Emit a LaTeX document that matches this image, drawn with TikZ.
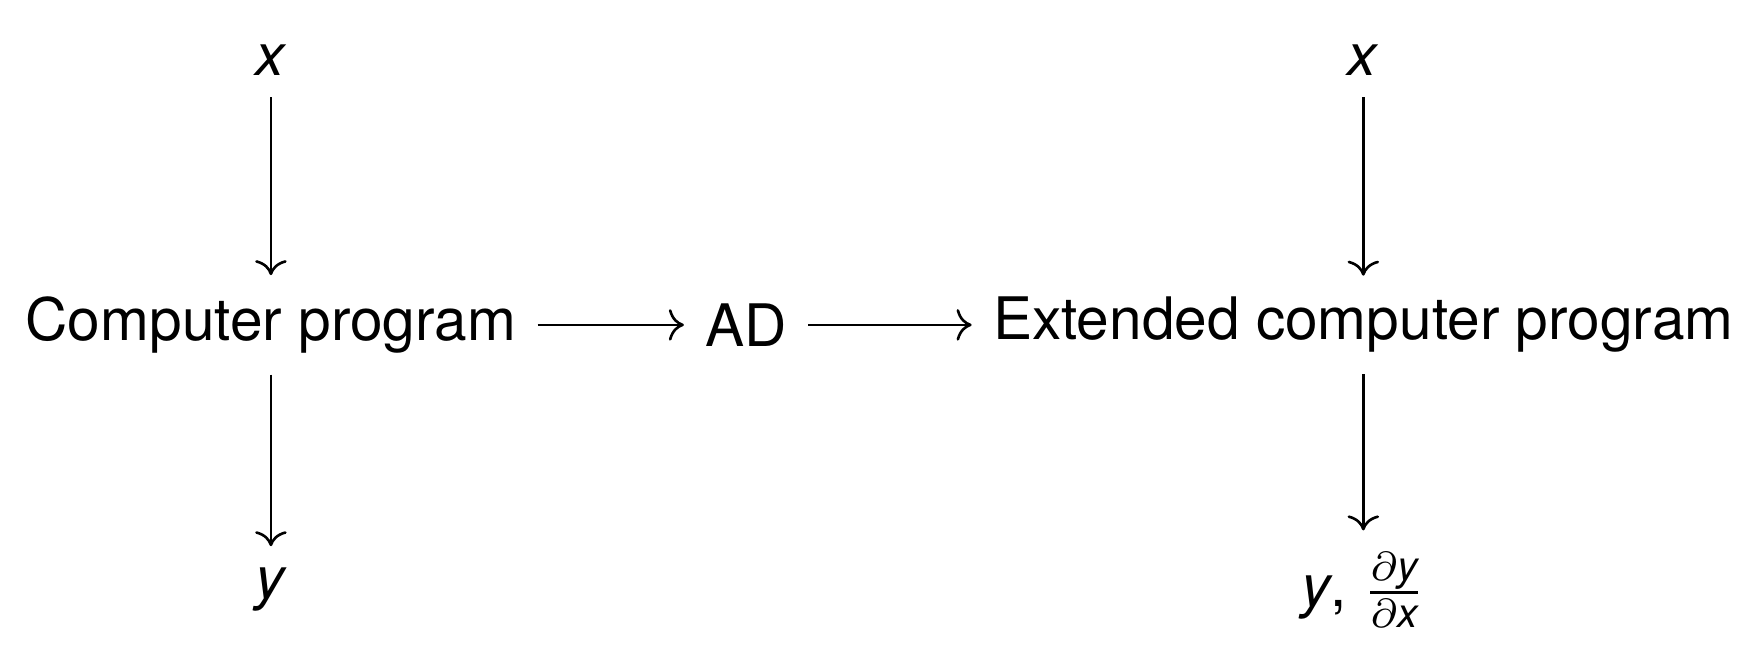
\documentclass[tikz,border=0pt]{standalone}
\usepackage{amsmath}
\usepackage{fontspec}
\setmainfont{TeX Gyre Heros}
\usetikzlibrary{positioning}
\usetikzlibrary{arrows.meta}
\tikzset{>={Computer Modern Rightarrow}}
\tikzset{
    term/.style = {inner sep=3.7pt, outer sep=0pt,
        font=\fontsize{10.1pt}{12pt}\selectfont},
    arrow/.style = {draw, ->, line width=0.45pt}
}
\begin{document}
\begin{tikzpicture}[auto, node distance=45.6pt]
            \useasboundingbox (-46.7pt,-59.8pt) rectangle (257.2pt,56.0pt);
            \node [term] (program) {Computer program};
            \node [term, above of=program] (input) {\textit{x}};
            \node [term, below of=program] (output) {\textit{y}};
            \node [term, right of=program, node distance=81.9pt] (ad) {AD};
            \node [term, right of=ad, node distance=106.4pt] (extended) {Extended computer program};
            \node [term, above of=extended] (xinput) {\textit{x}};
            \node [term, below of=extended] (grad) {\textit{y}, $\frac{\partial \textit{y}}{\partial \textit{x}}$};

            \draw [arrow] (input) -- (program);
            \draw [arrow] (program) -- (output);
            \draw [arrow] (program) -- (ad);
            \draw [arrow] (ad) -- (extended);
            \draw [arrow] (xinput) -- (extended);
            \draw [arrow] (extended) -- (grad);
\end{tikzpicture}
\end{document}
